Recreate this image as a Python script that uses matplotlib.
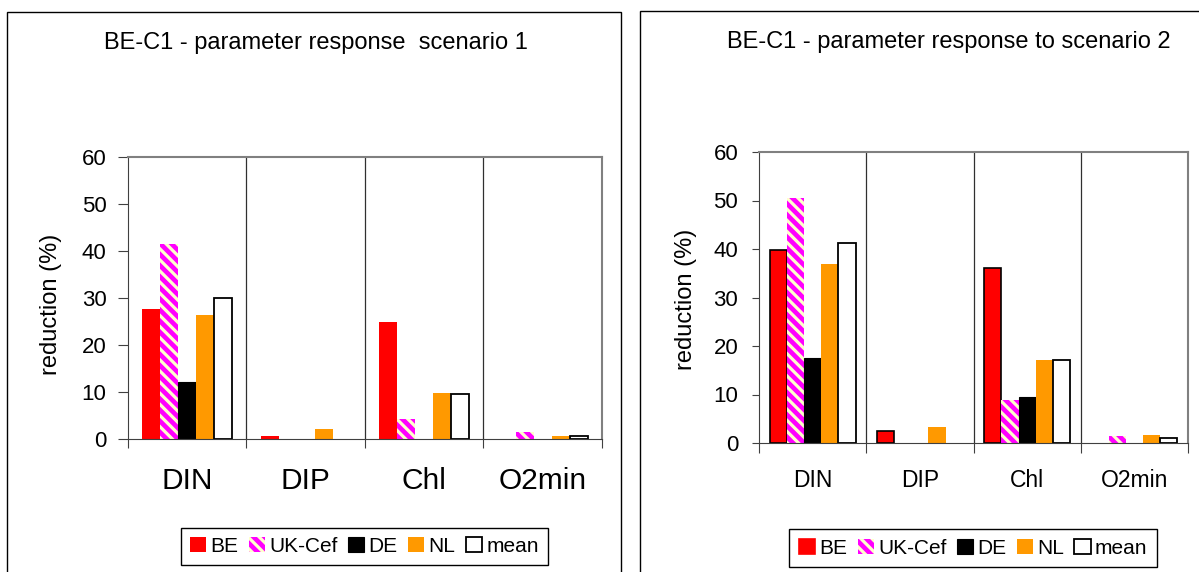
import matplotlib
matplotlib.use("Agg")
import numpy as np
import matplotlib.pyplot as plt
from matplotlib.patches import Rectangle, Patch

plt.rcParams["font.family"] = ["Liberation Sans", "DejaVu Sans"]
plt.rcParams["hatch.linewidth"] = 2.3

W, H = 1199, 572

params = ["DIN", "DIP", "Chl", "O2min"]
models = ["BE", "UK-Cef", "DE", "NL", "mean"]

# scenario 1 (reduction %)
s1_be = [27.7, 0.7, 25.0, 0.0]
s1_uk = [41.5, 0.0, 4.2, 1.4]
s1_de = [12.1, 0.0, 0.0, 0.0]
s1_nl = [26.4, 2.1, 9.7, 0.7]
s1_mean = [30.0, 0.0, 9.6, 0.7]

# scenario 2 (reduction %)
s2_be = [39.8, 2.4, 36.0, 0.0]
s2_uk = [50.6, 0.0, 8.9, 1.5]
s2_de = [17.6, 0.0, 9.5, 0.0]
s2_nl = [37.0, 3.4, 17.2, 1.6]
s2_mean = [41.2, 0.0, 17.1, 1.0]

yticks = [0, 10, 20, 30, 40, 50, 60]


def px_axes(fig, x0, y0, x1, y1):
    # pixel box (top-left origin) -> axes
    return fig.add_axes([x0 / W, 1 - y1 / H, (x1 - x0) / W, (y1 - y0) / H])


def styles(be_edge):
    return [
        dict(color="#FF0000", edgecolor="black" if be_edge else "none", linewidth=1.2 if be_edge else 0),
        dict(facecolor="#FF00FF", edgecolor="#FFFFCC", linewidth=0, hatch="\\\\\\"),
        dict(color="black", edgecolor="black", linewidth=0.8),
        dict(color="#FF9900", edgecolor="none", linewidth=0),
        dict(facecolor="white", edgecolor="black", linewidth=1.3),
    ]


def draw_chart(ax, series, group_w, be_edge, xlab_size, tick_len, tick_pad, xlab_pad, xtick_len):
    n = len(series)
    w = group_w / n
    x = np.arange(len(params)) + 0.5
    st = styles(be_edge)
    for j, vals in enumerate(series):
        v = np.array(vals, dtype=float)
        v[v == 0] = np.nan  # empty entries are not drawn
        ax.bar(x + (j - (n - 1) / 2) * w, v, w, **st[j], zorder=3)

    ax.set_xlim(0, len(params))
    ax.set_ylim(0, 60)
    ax.set_yticks(yticks)
    ax.tick_params(axis="y", direction="out", length=tick_len, pad=tick_pad,
                   labelsize=16, color="#404040")
    ax.set_xticks(np.arange(len(params) + 1))
    ax.set_xticklabels([])
    ax.tick_params(axis="x", which="major", direction="out", length=xtick_len, color="#404040")
    ax.set_xticks(x, params, minor=True)
    ax.tick_params(axis="x", which="minor", length=0, pad=xlab_pad, labelsize=xlab_size)

    for b in range(1, len(params)):
        ax.axvline(b, color="#303030", lw=0.9, zorder=2)

    ax.spines["top"].set_color("#808080")
    ax.spines["right"].set_color("#808080")
    ax.spines["top"].set_linewidth(1.5)
    ax.spines["right"].set_linewidth(1.5)
    ax.spines["left"].set_color("#404040")
    ax.spines["bottom"].set_color("#404040")
    ax.spines["bottom"].set_zorder(4)


def add_legend(fig, be_edge, cx, cy):
    st = styles(be_edge)
    handles = [Patch(**s) for s in st]
    leg = fig.legend(handles, models, loc="center",
                     bbox_to_anchor=(cx / W, 1 - cy / H), ncol=5, fontsize=15,
                     handlelength=0.78, handleheight=0.72, handletextpad=0.2,
                     columnspacing=0.5, borderpad=0.45, fancybox=False,
                     frameon=True, edgecolor="black", framealpha=1)
    leg.get_frame().set_linewidth(1.0)
    return leg


fig = plt.figure(figsize=(W / 100, H / 100), dpi=100)

# panel frames
fig.add_artist(Rectangle((7 / W, -0.1), (621 - 7) / W, 1.1 - 12 / H,
                         transform=fig.transFigure, fill=False, ec="black", lw=1))
fig.add_artist(Rectangle((640 / W, -0.1), 0.6, 1.1 - 11 / H,
                         transform=fig.transFigure, fill=False, ec="black", lw=1))

ax1 = px_axes(fig, 128, 157, 602, 439)
draw_chart(ax1, [s1_be, s1_uk, s1_de, s1_nl, s1_mean], 0.76, False,
           21.5, 7, 8.4, 20.5, 6.5)
fig.text(316 / W, 1 - 43.5 / H, "BE-C1 - parameter response  scenario 1",
         fontsize=17, ha="center", va="center")
fig.text(50.5 / W, 1 - 304 / H, "reduction (%)", rotation=90, fontsize=17,
         ha="center", va="center")
add_legend(fig, False, 364.5, 546.5)

ax2 = px_axes(fig, 759, 152, 1188, 443)
draw_chart(ax2, [s2_be, s2_uk, s2_de, s2_nl, s2_mean], 0.80, True,
           16.5, 5, 10, 18.5, 7)
fig.text(949 / W, 1 - 41.7 / H, "BE-C1 - parameter response to scenario 2",
         fontsize=17, ha="center", va="center")
fig.text(686 / W, 1 - 299 / H, "reduction (%)", rotation=90, fontsize=17,
         ha="center", va="center")
add_legend(fig, True, 973, 548)

fig.savefig("out.png", dpi=100)
